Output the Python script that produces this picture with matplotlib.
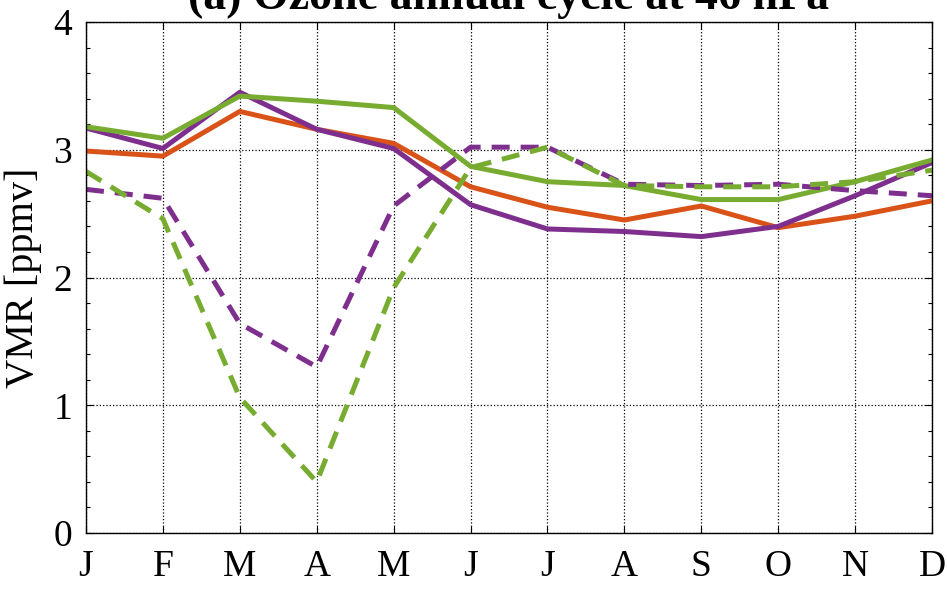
import matplotlib
matplotlib.use('Agg')
from matplotlib import pyplot as plt
from matplotlib.ticker import MultipleLocator

plt.rcParams['font.family'] = ['Liberation Serif', 'DejaVu Serif']

months = ['J', 'F', 'M', 'A', 'M', 'J', 'J', 'A', 'S', 'O', 'N', 'D']

# solid lines
orange_solid = [2.99, 2.95, 3.30, 3.16, 3.05, 2.71, 2.55, 2.45, 2.56, 2.39, 2.48, 2.60]
purple_solid = [3.17, 3.01, 3.45, 3.16, 3.01, 2.57, 2.38, 2.36, 2.32, 2.40, 2.64, 2.90]
green_solid = [3.18, 3.09, 3.42, 3.38, 3.33, 2.87, 2.75, 2.72, 2.61, 2.61, 2.75, 2.92]
# dashed lines
purple_dash = [2.69, 2.62, 1.64, 1.30, 2.56, 3.02, 3.02, 2.73, 2.72, 2.73, 2.68, 2.64]
green_dash = [2.83, 2.46, 1.06, 0.40, 1.92, 2.86, 3.02, 2.72, 2.71, 2.71, 2.75, 2.84]

c_orange = '#D95319'
c_purple = '#7E2F8E'
c_green = '#77AC30'

fig = plt.figure(figsize=(9.47, 5.91), dpi=100)
ax = fig.add_axes([0.0908, 0.0981, 0.8934, 0.8647])

x = range(len(months))
lw = 3.6
ax.plot(x, orange_solid, color=c_orange, lw=lw)
ax.plot(x, purple_solid, color=c_purple, lw=lw)
ax.plot(x, green_solid, color=c_green, lw=lw)
ax.plot(x, purple_dash, color=c_purple, lw=lw, dashes=(3.6, 2.2))
ax.plot(x, green_dash, color=c_green, lw=lw, dashes=(3.6, 2.2))

ax.set_xlim(0, 11)
ax.set_ylim(0, 4)
ax.set_xticks(list(x))
ax.set_xticklabels(months)
ax.yaxis.set_major_locator(MultipleLocator(1))
ax.yaxis.set_minor_locator(MultipleLocator(0.2))
ax.tick_params(which='both', direction='in', top=True, right=True, width=0.8)
ax.tick_params(which='major', length=5, labelsize=27)
ax.tick_params(which='minor', length=3)
ax.tick_params(axis='x', pad=12)
ax.tick_params(axis='y', pad=10)
ax.grid(True, which='major', linestyle=':', color='black', linewidth=0.9)
for s in ax.spines.values():
    s.set_linewidth(1.0)

ax.set_ylabel('VMR [ppmv]', fontsize=29, labelpad=8)

fig.text(0.5375, 0.985, '(a) Ozone annual cycle at 46 hPa', ha='center',
         va='baseline', fontsize=33, fontweight='bold')

fig.savefig('out.png', dpi=100)
